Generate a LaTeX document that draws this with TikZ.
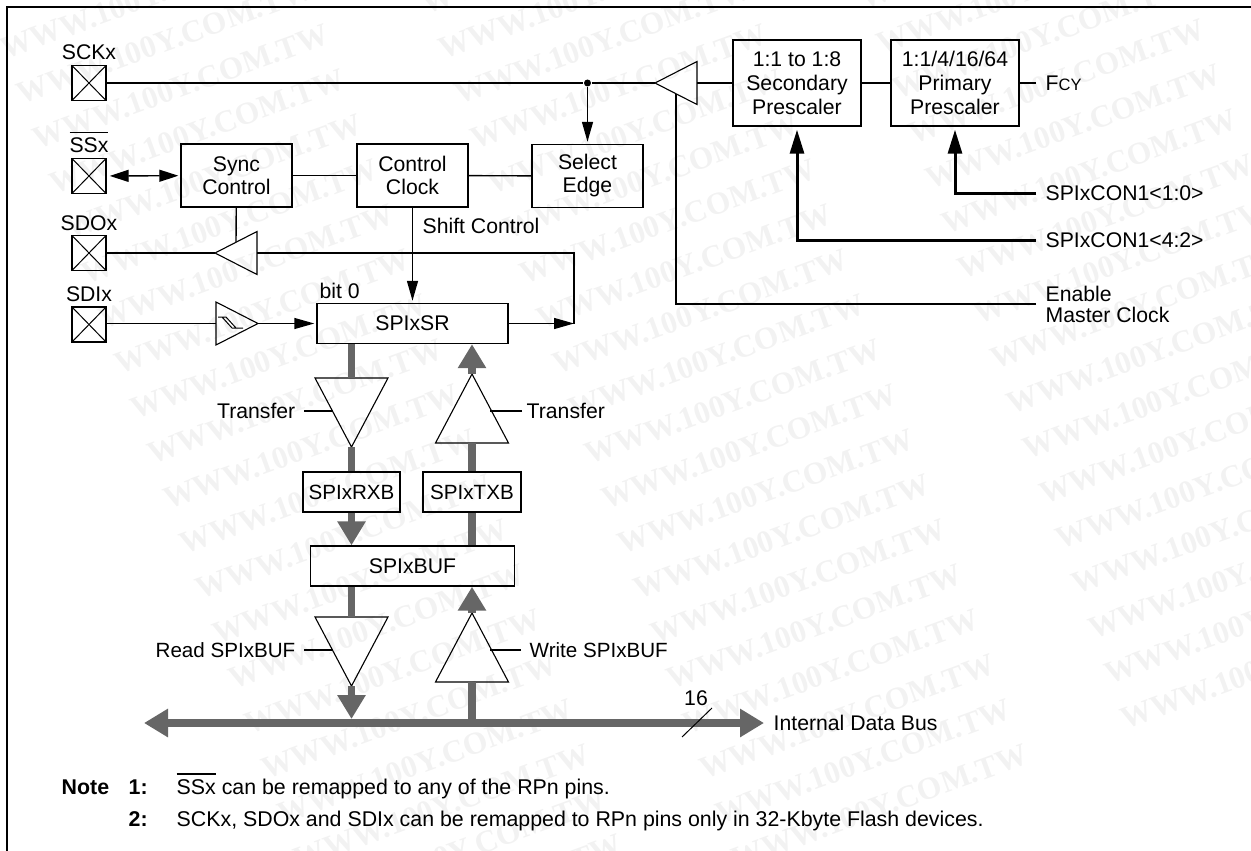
\documentclass[tikz,border=0pt]{standalone}
\usepackage{xcolor}
\usepackage{fontspec}
\setmainfont{Liberation Sans}
\newfontfamily\markfont{Liberation Serif}
\usetikzlibrary{arrows.meta, positioning, calc, shapes.geometric}
\definecolor{busgray}{HTML}{666666}
\newsavebox\barbox
\newcommand\barred[1]{\sbox\barbox{#1}\rlap{\raisebox{\dimexpr\ht\barbox+4.5pt\relax}[0pt][0pt]{\rule{\wd\barbox}{1.3pt}}}\usebox\barbox}

\begin{document}
\begin{tikzpicture}[
    x=1pt, y=-1pt,
    font=\fontsize{21.2}{23}\selectfont,
    line width=1.4pt,
    blok/.style={draw, minimum width=#1, inner sep=0pt, align=center},
    blok/.default=111pt,
    tall/.style={blok=#1, minimum height=63pt},
    slim/.style={blok=#1, minimum height=40pt},
    tight/.style={font=\fontsize{20.6}{23}\selectfont},
    presc/.style={blok=128pt, minimum height=86pt,
                  font=\fontsize{21.2}{24}\selectfont},
    pad/.style={draw, minimum width=34pt, minimum height=35pt, inner sep=0pt,
                path picture={
                  \draw[line width=1pt] (path picture bounding box.north west)
                    -- (path picture bounding box.south east);
                  \draw[line width=1pt] (path picture bounding box.north east)
                    -- (path picture bounding box.south west);}},
    buf/.style={draw, line width=1.1pt, shape=isosceles triangle,
                isosceles triangle stretches, inner sep=0pt, outer sep=0pt,
                anchor=apex, shape border rotate=#1,
                minimum width=43pt, minimum height=42pt},
    gate/.style={buf=#1, minimum width=73pt, minimum height=69pt},
    sig/.style={anchor=west, inner ysep=0pt, inner xsep=9pt, align=left},
    sigl/.style={anchor=east, inner ysep=0pt, inner xsep=8pt},
    pinname/.style={inner sep=0pt},
    thinhead/.style={-{Triangle[length=20pt, width=11pt]}, shorten >=2pt},
    fat/.style={line width=3pt, -{Triangle[length=24pt, width=14pt]}, shorten >=3pt},
    bus/.style={line width=7.5pt, color=busgray},
    bushead/.style={-{Triangle[length=24pt, width=27pt]}},
    wm/.style={anchor=base west, rotate=20, text=black!5, inner sep=0pt,
               font=\markfont\bfseries\fontsize{31.5}{31.5}\selectfont},
    note/.style={anchor=base west, inner sep=0pt, font=\fontsize{21.35}{23}\selectfont}
  ]
    \useasboundingbox (0,0) rectangle (1251,851);

    % watermark
    \begin{scope}
      \clip (0,0) rectangle (1251,851);
      \foreach \cc/\xx/\yy in {0/347/1005, 1/736/870, 2/1125/730}
        \foreach \rr in {-21,...,0}
          \node[wm] at ({\xx + \rr*16.3}, {\yy + \rr*45}) {WWW.100Y.COM.TW};
    \end{scope}

    \draw[line width=1.7pt] (7,851) -- (7,7) -- (1251,7);

    % pins
    \node[pad] (sck) at (89,83)  {};
    \node[pad] (ssx) at (89,176) {};
    \node[pad] (sdo) at (89,253) {};
    \node[pad] (sdi) at (89,324.5) {};
    \node[pinname] (sckname) at (89,52)  {SCKx};
    \node[pinname] (ssxname) at (89,145) {\barred{SSx}};
    \node[pinname] (sdoname) at (89,223) {SDOx};
    \node[pinname] (sdiname) at (89,294) {SDIx};

    % clock row
    \node[presc] (second) at (797,83)  {1:1 to 1:8\\Secondary\\Prescaler};
    \node[presc] (primary) at (955,83) {1:1/4/16/64\\Primary\\Prescaler};
    \node[tall] (sync) at (236.5,175.5) {Sync\\Control};
    \node[tall] (ctrl) at (412.5,175.5) {Control\\Clock};
    \node[tall] (edge) at (587.5,176)   {Select\\Edge};
    \node[buf=180] (sckbuf) at (655,83) {};
    \node[buf=180] (sdobuf) at (215,253) {};
    \node[buf=0]   (sdibuf) at (258,323.5) {};
    \node[circle, fill, inner sep=0pt, minimum size=7pt] (tap) at (587.5,83) {};
    \node[anchor=west, inner sep=0pt] (shiftlbl) at (422,226) {Shift Control};
    \node[anchor=west, inner sep=0pt] (bitlbl) at (319,291) {bit 0};

    % right hand signals
    \node[sig] (fcy) at (1036,83)
      {F{\fontsize{16.5}{16.5}\selectfont CY}};
    \node[sig] (con10) at (1036,193) {SPIxCON1<1:0>};
    \node[sig] (con42) at (1036,240) {SPIxCON1<4:2>};
    \node[sig, font=\fontsize{21.2}{21}\selectfont] (enable) at (1036,304)
      {Enable\\Master Clock};

    % registers
    \node[slim=191pt] (sr)  at (412.5,323.5) {SPIxSR};
    \node[slim=97pt, tight]  (rxb) at (351.5,492) {SPIxRXB};
    \node[slim=98pt, tight]  (txb) at (472,492)   {SPIxTXB};
    \node[slim=204pt] (spibuf) at (412.5,566) {SPIxBUF};
    \node[gate=270] (rxgate) at (351.5,447) {};
    \node[gate=90]  (txgate) at (472,374)   {};
    \node[gate=270] (rdgate) at (351.5,686) {};
    \node[gate=90]  (wrgate) at (472,613)   {};

    % bus
    \coordinate (buswest) at (144,723);
    \node[sig] (busname) at (764,723) {Internal Data Bus};

    % wires
    \draw (sck) -- (tap) -- (sckbuf.apex);
    \draw[thinhead] (tap) -- (edge);
    \draw (sckbuf.lower side) -- (second);
    \draw (second) -- (primary);
    \draw (primary) -- (fcy);
    \draw (sync) -- (ctrl);
    \draw (ctrl) -- (edge);
    \draw[{Triangle[length=19pt, width=12pt]}-{Triangle[length=19pt, width=12pt]},
          shorten <=3pt, shorten >=2pt] (ssx) -- (sync);
    \draw (sync) -- (sdobuf.right side);
    \draw (sdo) -- (sdobuf.apex);
    \draw[thinhead] (ctrl) -- (ctrl |- sr.north);
    \draw (sdi.east |- sdibuf.lower side) -- (sdibuf.lower side);
    \draw[thinhead] (sdibuf.apex) -- (sr.west);
    \coordinate (back) at (574,323.5);
    \draw[thinhead, shorten >=0pt] (sr.east) -- (back);
    \draw (sdobuf.lower side) -| (back);
    \draw[fat] (con42.west) -| (second.south);
    \draw[fat] (con10.west) -| (primary.south);
    \draw (enable.west) -| (sckbuf.left side);

    % grey paths
    \draw[bus] (sr.south -| rxgate.apex) -- (rxgate.lower side);
    \draw[bus] (rxgate.apex) -- (rxb.north);
    \draw[bus, bushead] (rxb.south) -- (rxb.south |- spibuf.north);
    \draw[bus] (spibuf.south -| rdgate.apex) -- (rdgate.lower side);
    \draw[bus, bushead, shorten >=4pt] (rdgate.apex) -- (rdgate.apex |- buswest);
    \draw[bus] (txb.north) -- (txgate.lower side);
    \draw[bus, bushead] (txgate.apex) -- (txgate.apex |- sr.south);
    \draw[bus] (spibuf.north -| txb.south) -- (txb.south);
    \draw[bus] (wrgate.lower side) -- (wrgate.lower side |- buswest);
    \draw[bus, bushead] (wrgate.apex) -- (wrgate.apex |- spibuf.south);
    \draw[bus, {Triangle[length=24pt, width=27pt]}-{Triangle[length=24pt, width=27pt]}]
      (buswest) -- (busname.west);

    % gate controls
    \node[sigl] (xferl) at (304,411) {Transfer};
    \node[sigl, tight] (rdlbl) at (304,650) {Read SPIxBUF};
    \node[anchor=west, inner ysep=0pt, inner xsep=4pt] (xferr) at (522,411) {Transfer};
    \node[anchor=west, inner ysep=0pt, inner xsep=8pt, tight] (wrlbl) at (521,650) {Write SPIxBUF};
    \draw (xferl.east) -- (xferl.east -| rxgate.right side);
    \draw (rdlbl.east) -- (rdlbl.east -| rdgate.right side);
    \draw (xferr.west) -- (xferr.west -| txgate.right side);
    \draw (wrlbl.west) -- (wrlbl.west -| wrgate.right side);

    % schmitt mark
    \draw[line width=1pt] (218,317) -- (226,317) -- (236,328) -- (243,328)
      (222,317) -- (232,328) -- (236,328);

    % width mark
    \node[inner sep=0pt] (widthlbl) at (696,698) {16};
    \coordinate (slasha) at (682,737);
    \coordinate (slashb) at (712,708);
    \draw[line width=1pt] (slasha) -- (slashb);

    % notes
    \node[note] (notehd) at (61,794) {\bfseries Note};
    \node[note] (note1n) at (128,794) {\bfseries 1:};
    \node[note] (note1) at (176,794) {\barred{SSx} can be remapped to any of the RPn pins.};
    \node[note] (note2n) at (128,826) {\bfseries 2:};
    \node[note] (note2) at (176,826) {SCKx, SDOx and SDIx can be remapped to RPn pins only in 32-Kbyte Flash devices.};
  \end{tikzpicture}
\end{document}
